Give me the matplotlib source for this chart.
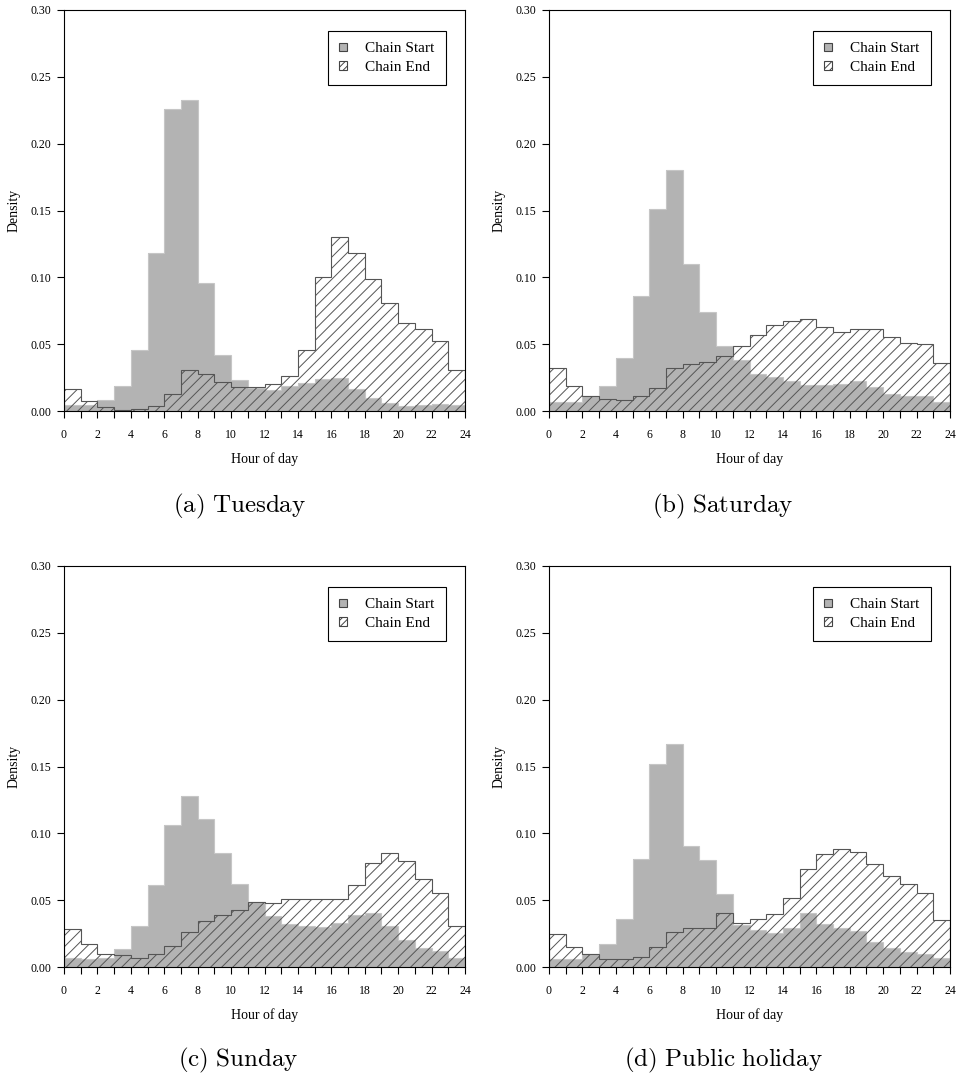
import numpy as np
import matplotlib.pyplot as plt
from matplotlib.patches import Patch

plt.rcParams['font.family'] = ['Liberation Serif', 'DejaVu Serif']
plt.rcParams['mathtext.fontset'] = 'cm'
plt.rcParams['hatch.linewidth'] = 0.7

EDGES = np.arange(25)

# Chain start densities (gray) per hour bin
tue_start = [0.0045, 0.0045, 0.008, 0.019, 0.046, 0.118, 0.226, 0.233, 0.096, 0.042, 0.023, 0.017,
             0.016, 0.019, 0.021, 0.024, 0.025, 0.0165, 0.010, 0.006, 0.004, 0.0045, 0.005, 0.0045]
tue_end = [0.0165, 0.0075, 0.003, 0.001, 0.0015, 0.004, 0.0125, 0.031, 0.028, 0.022, 0.018, 0.018,
           0.020, 0.026, 0.046, 0.100, 0.130, 0.118, 0.099, 0.081, 0.066, 0.061, 0.052, 0.031]

sat_start = [0.007, 0.007, 0.0115, 0.019, 0.0395, 0.086, 0.151, 0.180, 0.110, 0.074, 0.049, 0.038,
             0.028, 0.0255, 0.0225, 0.0195, 0.0195, 0.020, 0.0225, 0.018, 0.0125, 0.011, 0.011, 0.007]
sat_end = [0.032, 0.019, 0.011, 0.009, 0.008, 0.011, 0.0175, 0.032, 0.035, 0.037, 0.041, 0.049,
           0.057, 0.064, 0.067, 0.069, 0.063, 0.059, 0.061, 0.061, 0.055, 0.051, 0.050, 0.036]

sun_start = [0.007, 0.006, 0.0065, 0.0137, 0.0307, 0.061, 0.106, 0.128, 0.111, 0.085, 0.062, 0.049,
             0.038, 0.032, 0.0307, 0.0297, 0.033, 0.039, 0.0405, 0.0307, 0.020, 0.014, 0.012, 0.0065]
sun_end = [0.0285, 0.017, 0.010, 0.009, 0.007, 0.0095, 0.016, 0.0265, 0.0345, 0.039, 0.043, 0.049,
           0.048, 0.051, 0.0505, 0.051, 0.051, 0.061, 0.078, 0.0855, 0.079, 0.066, 0.055, 0.031]

hol_start = [0.0057, 0.0057, 0.010, 0.017, 0.036, 0.081, 0.1515, 0.167, 0.0905, 0.080, 0.0545, 0.0315,
             0.0277, 0.0257, 0.0295, 0.0405, 0.032, 0.029, 0.027, 0.019, 0.014, 0.0115, 0.010, 0.007]
hol_end = [0.0245, 0.0147, 0.010, 0.0057, 0.0057, 0.0077, 0.0147, 0.0265, 0.029, 0.029, 0.0405, 0.033,
           0.036, 0.0397, 0.0515, 0.073, 0.0845, 0.088, 0.086, 0.077, 0.068, 0.062, 0.0555, 0.035]

CAPTIONS = ['(a) Tuesday', '(b) Saturday', '(c) Sunday', '(d) Public holiday']
PANELS = [(tue_start, tue_end), (sat_start, sat_end), (sun_start, sun_end), (hol_start, hol_end)]

W, H = 956, 1079
fig = plt.figure(figsize=(W / 100, H / 100), dpi=100)

# pixel boxes: left, top, right, bottom
boxes = [(64, 10, 465, 411), (549, 10, 950, 411), (64, 566, 465, 967), (549, 566, 950, 967)]
cap_pos = [(240, 506), (723, 506), (238, 1060), (723, 1060)]

handles = [Patch(facecolor='#b3b3b3', edgecolor='#444444', linewidth=0.8, label='Chain Start'),
           Patch(facecolor='white', edgecolor='#444444', hatch='/////', linewidth=0.8, label='Chain End')]

for (start, end), box, cap, cp in zip(PANELS, boxes, CAPTIONS, cap_pos):
    l, t, r, b = box
    ax = fig.add_axes([l / W, 1 - b / H, (r - l) / W, (b - t) / H])
    ax.stairs(start, EDGES, fill=True, facecolor='#b3b3b3', edgecolor='none')
    ax.stairs(start, EDGES, color='#c6c6c6', linewidth=0.8)
    ax.stairs(end, EDGES, fill=True, facecolor='none', edgecolor='#555555',
              hatch='///', linewidth=0.8)
    ax.set_xlim(0, 24)
    ax.set_ylim(0, 0.30)
    ax.set_xticks(np.arange(0, 25, 2))
    ax.set_xticks(np.arange(0, 25, 1), minor=True)
    ax.set_yticks(np.arange(0, 0.31, 0.05))
    ax.set_yticklabels([f'{v:.2f}' for v in np.arange(0, 0.31, 0.05)])
    ax.tick_params(axis='both', which='both', direction='out', length=5, width=0.8,
                   labelsize=8.5, pad=4)
    ax.tick_params(axis='x', which='major', pad=8)
    for s in ax.spines.values():
        s.set_linewidth(0.8)
    ax.set_xlabel('Hour of day', fontsize=10, labelpad=8)
    ax.set_ylabel('Density', fontsize=10, labelpad=7)
    leg = ax.legend(handles=handles, loc='upper right', bbox_to_anchor=(0.953, 0.948),
                    borderaxespad=0, fontsize=11, fancybox=False, edgecolor='black',
                    framealpha=1, handlelength=0.5, handleheight=0.5, handletextpad=1.2,
                    borderpad=0.75, labelspacing=0.35)
    leg.get_frame().set_linewidth(0.8)
    fig.text(cp[0] / W, 1 - cp[1] / H, r'$\mathrm{' + cap.replace(' ', r'\ ') + '}$',
             ha='center', va='center', fontsize=18)

fig.savefig('out.png', dpi=100)
